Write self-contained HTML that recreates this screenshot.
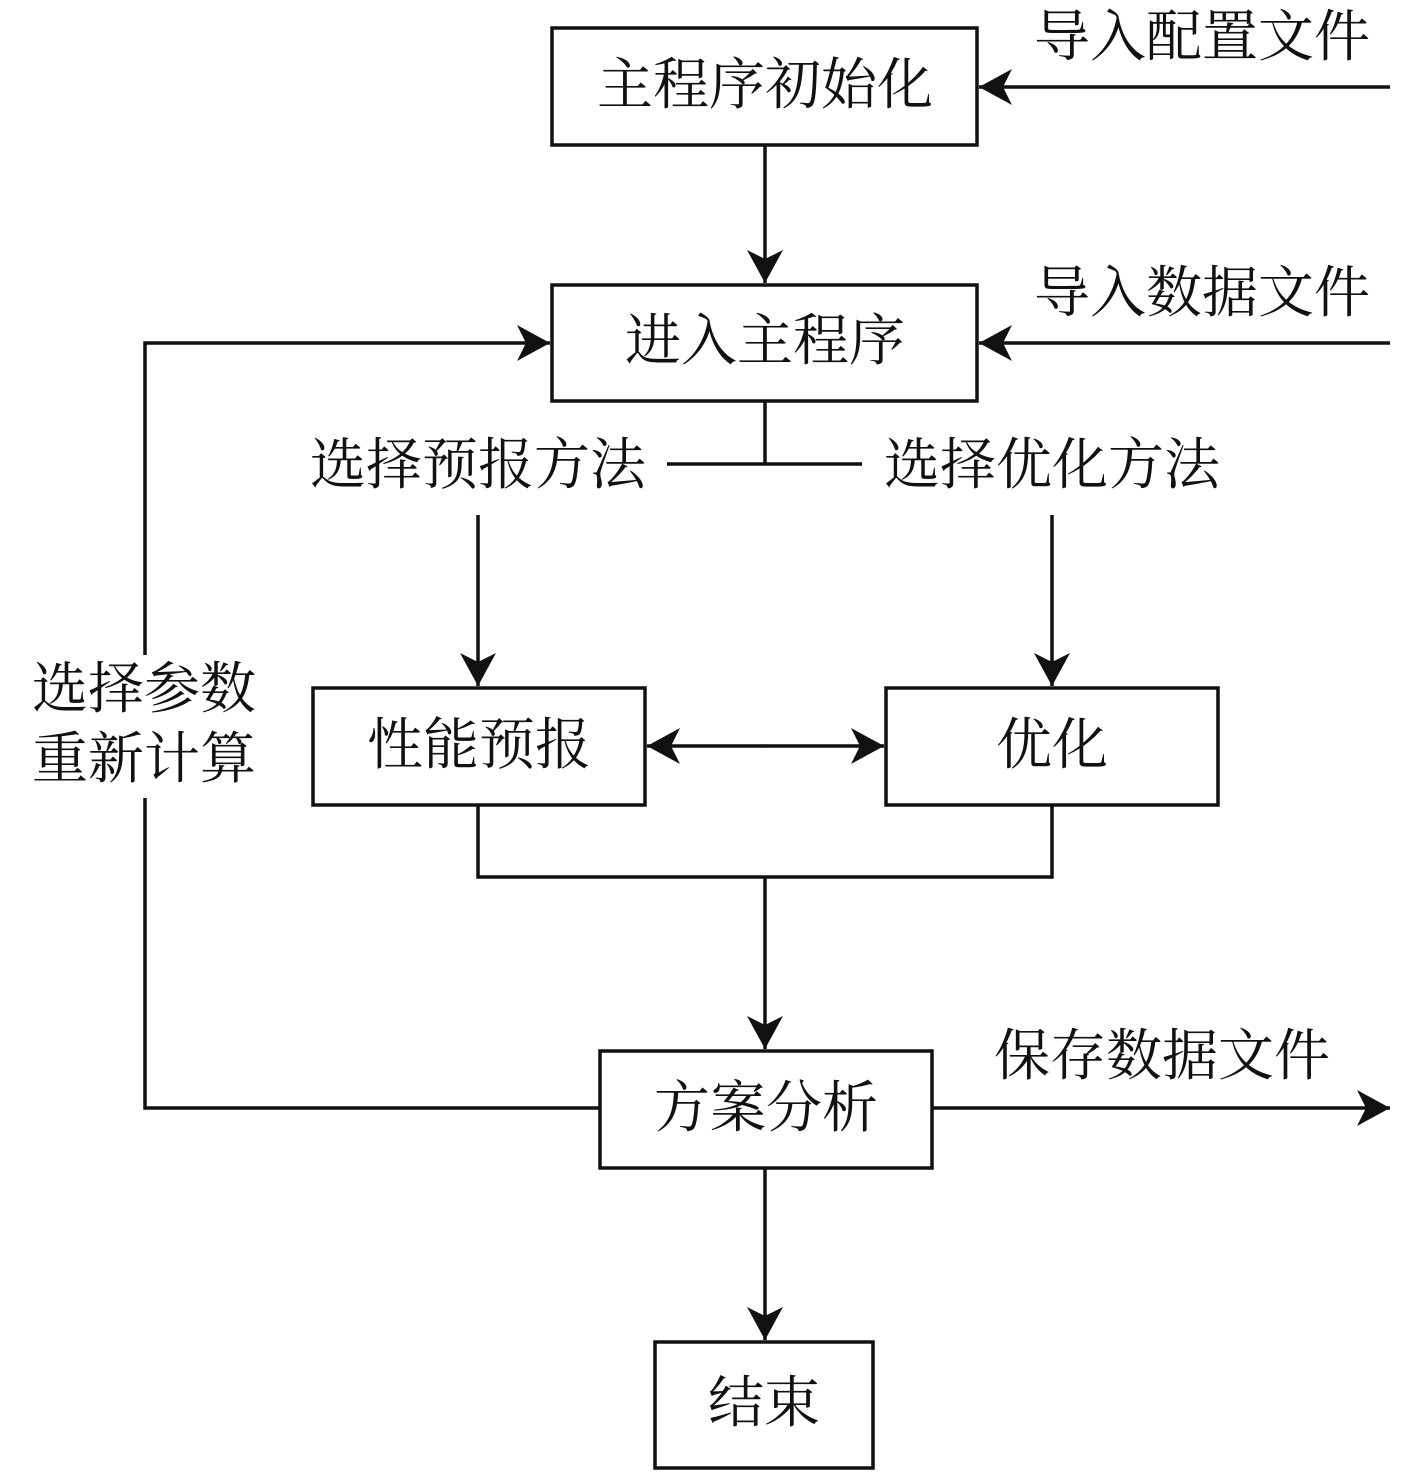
<!DOCTYPE html>
<html><head><meta charset="utf-8"><style>
html,body{margin:0;padding:0;background:#fff;}
svg{display:block;}
text{font-family:"Liberation Serif","Noto Serif CJK SC",serif;font-size:56px;fill:#111;dominant-baseline:central;}
</style></head><body>
<svg width="1417" height="1476" viewBox="0 0 1417 1476" xmlns="http://www.w3.org/2000/svg">
<defs>
<marker id="a" markerWidth="34" markerHeight="38" refX="33" refY="19" orient="auto" markerUnits="userSpaceOnUse">
<path d="M0,1 L33,19 L0,37 L9,19 Z" fill="#111"/>
</marker>
</defs>
<g fill="none" stroke="#111" stroke-width="3.5">
<rect x="552" y="28" width="425" height="117"/>
<rect x="552" y="285" width="425" height="116"/>
<rect x="313" y="688" width="332" height="117"/>
<rect x="886" y="688" width="332" height="117"/>
<rect x="600" y="1051" width="332" height="117"/>
<rect x="655" y="1342" width="218" height="126"/>
<line x1="1390" y1="87" x2="979" y2="87" marker-end="url(#a)"/>
<line x1="765" y1="145" x2="765" y2="283" marker-end="url(#a)"/>
<line x1="1390" y1="343" x2="979" y2="343" marker-end="url(#a)"/>
<polyline points="145,655 145,343 550,343" marker-end="url(#a)"/>
<polyline points="145,798 145,1108 600,1108"/>
<line x1="932" y1="1108" x2="1390" y2="1108" marker-end="url(#a)"/>
<line x1="765" y1="401" x2="765" y2="464"/>
<line x1="667" y1="464" x2="862" y2="464"/>
<line x1="478" y1="515" x2="478" y2="686" marker-end="url(#a)"/>
<line x1="1052" y1="515" x2="1052" y2="686" marker-end="url(#a)"/>
<line x1="766" y1="746" x2="647" y2="746" marker-end="url(#a)"/>
<line x1="765" y1="746" x2="884" y2="746" marker-end="url(#a)"/>
<polyline points="478,805 478,877 1052,877 1052,805"/>
<line x1="765" y1="877" x2="765" y2="1049" marker-end="url(#a)"/>
<line x1="765" y1="1168" x2="765" y2="1340" marker-end="url(#a)"/>
</g>
<g text-anchor="middle">
<text x="765" y="86">主程序初始化</text>
<text x="765" y="342">进入主程序</text>
<text x="479" y="746">性能预报</text>
<text x="1052" y="746">优化</text>
<text x="766" y="1109">方案分析</text>
<text x="764" y="1404">结束</text>
<text x="1202" y="38">导入配置文件</text>
<text x="1202" y="294">导入数据文件</text>
<text x="478" y="466">选择预报方法</text>
<text x="1052" y="466">选择优化方法</text>
<text x="1162" y="1057">保存数据文件</text>
<text x="144" y="690">选择参数</text>
<text x="144" y="760">重新计算</text>
</g>
</svg>
</body></html>
